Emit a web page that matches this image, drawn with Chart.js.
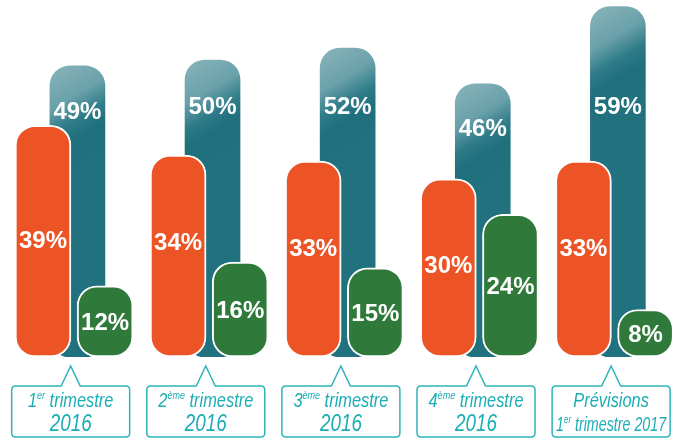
<!DOCTYPE html>
<html>
<head>
<meta charset="utf-8">
<script src="https://cdn.jsdelivr.net/npm/chart.js@4/dist/chart.umd.min.js"></script>
<style>
  html, body { margin: 0; padding: 0; background: #ffffff; }
  canvas { display: block; }
</style>
</head>
<body>
<canvas id="c" width="678" height="439"></canvas>
<script>
// ---- data ----
const CATEGORIES = ['1er trimestre 2016', '2ème trimestre 2016', '3ème trimestre 2016', '4ème trimestre 2016', 'Prévisions 1er trimestre 2017'];
const LABEL_LINE1 = ['1^er trimestre', '2^ème trimestre', '3^ème trimestre', '4^ème trimestre', 'Prévisions'];
const LABEL_LINE2 = ['2016', '2016', '2016', '2016', '1^er trimestre 2017'];
const ORANGE_VALUES = [39, 34, 33, 30, 33];
const TEAL_VALUES = [49, 50, 52, 46, 59];
const GREEN_VALUES = [12, 16, 15, 24, 8];

// ---- styles ----
const ORANGE = '#EC5325';
const TEAL = '#1F7080';
const GREEN = '#2F7A3B';
const CYAN = '#1DAEB5';
const BOX = '#2DB5BA';
const OFFSETS = { orange: 0, teal: 0.255, green: 0.46, label: 0.205 };
const WIDTHS = { orange: 56, teal: 55, green: 56 };
const NARROW = 0.82;

function pts(values, off) {
  return values.map((v, i) => ({ x: i + off, y: v }));
}

function tealGradient(c) {
  if (c.type !== 'data') return TEAL;
  const chart = c.chart;
  const xs = chart.scales.x, ys = chart.scales.y;
  if (!xs || !ys || !chart.chartArea || !c.parsed) return TEAL;
  const cx = xs.getPixelForValue(c.parsed.x);
  const top = ys.getPixelForValue(c.parsed.y);
  const w = WIDTHS.teal;
  const g = chart.ctx.createLinearGradient(cx - w / 2, top, cx + w / 2, top + w * 1.7);
  g.addColorStop(0, '#8ab4bb');
  g.addColorStop(0.35, '#6aa1aa');
  g.addColorStop(0.55, '#2f7c89');
  g.addColorStop(0.7, '#1f6f7d');
  g.addColorStop(1, '#21717f');
  return g;
}

const valueLabels = {
  id: 'valueLabels',
  afterDatasetsDraw(chart) {
    const ctx = chart.ctx;
    const ys = chart.scales.y;
    const mO = chart.getDatasetMeta(0).data;
    const mT = chart.getDatasetMeta(1).data;
    const mG = chart.getDatasetMeta(2).data;
    const tealLevel = ys.getPixelForValue(42);
    const orangeLevel = ys.getPixelForValue(19.5);
    ctx.save();
    ctx.fillStyle = '#ffffff';
    ctx.font = 'bold 24px "Liberation Sans", Arial, sans-serif';
    ctx.textAlign = 'center';
    ctx.textBaseline = 'middle';
    for (let i = 0; i < CATEGORIES.length; i++) {
      const o = mO[i], t = mT[i], g = mG[i];
      ctx.fillText(ORANGE_VALUES[i] + '%', o.x, Math.max(orangeLevel, o.y + 88));
      ctx.fillText(TEAL_VALUES[i] + '%', t.x, Math.max(tealLevel, t.y + 46));
      ctx.fillText(GREEN_VALUES[i] + '%', g.x, (g.y + g.base) / 2 + 2);
    }
    ctx.restore();
  }
};

function parseRich(s) {
  const out = [];
  let i = 0;
  let buf = '';
  while (i < s.length) {
    if (s[i] === '^') {
      if (buf) { out.push({ t: buf }); buf = ''; }
      i++;
      let sup = '';
      while (i < s.length && s[i] !== ' ') { sup += s[i]; i++; }
      out.push({ t: sup, sup: true });
    } else { buf += s[i]; i++; }
  }
  if (buf) out.push({ t: buf });
  return out;
}

function drawRich(ctx, text, cx, baseline, size, maxW) {
  const segs = parseRich(text);
  const main = 'italic ' + size + 'px "Liberation Sans", Arial, sans-serif';
  const supF = 'italic ' + Math.round(size * 0.55) + 'px "Liberation Sans", Arial, sans-serif';
  let total = 0;
  segs.forEach(sg => { ctx.font = sg.sup ? supF : main; sg.w = ctx.measureText(sg.t).width; total += sg.w; });
  let sx = NARROW;
  if (total * sx > maxW) sx = maxW / total;
  ctx.save();
  ctx.translate(cx, baseline);
  ctx.scale(sx, 1);
  let x = -total / 2;
  ctx.textAlign = 'left';
  ctx.textBaseline = 'alphabetic';
  segs.forEach(sg => {
    ctx.font = sg.sup ? supF : main;
    ctx.fillText(sg.t, x, sg.sup ? -size * 0.38 : 0);
    x += sg.w;
  });
  ctx.restore();
}

const categoryBoxes = {
  id: 'categoryBoxes',
  afterDraw(chart) {
    const ctx = chart.ctx;
    const xs = chart.scales.x;
    const bottom = chart.chartArea.bottom;
    ctx.save();
    for (let i = 0; i < CATEGORIES.length; i++) {
      const cx = xs.getPixelForValue(i + OFFSETS.label);
      const l = cx - 59, r = cx + 59, t = bottom + 29, b = bottom + 80, rad = 4;
      const tipY = bottom + 9, half = 9.5;
      ctx.beginPath();
      ctx.moveTo(l + rad, t);
      ctx.lineTo(cx - half, t);
      ctx.lineTo(cx, tipY);
      ctx.lineTo(cx + half, t);
      ctx.lineTo(r - rad, t);
      ctx.quadraticCurveTo(r, t, r, t + rad);
      ctx.lineTo(r, b - rad);
      ctx.quadraticCurveTo(r, b, r - rad, b);
      ctx.lineTo(l + rad, b);
      ctx.quadraticCurveTo(l, b, l, b - rad);
      ctx.lineTo(l, t + rad);
      ctx.quadraticCurveTo(l, t, l + rad, t);
      ctx.closePath();
      ctx.fillStyle = '#ffffff';
      ctx.fill();
      ctx.lineWidth = 1.5;
      ctx.strokeStyle = BOX;
      ctx.stroke();
      ctx.fillStyle = CYAN;
      const big2 = LABEL_LINE2[i].indexOf('^') < 0;
      drawRich(ctx, LABEL_LINE1[i], cx, bottom + 50, 20, 110);
      drawRich(ctx, LABEL_LINE2[i], cx, bottom + 74, big2 ? 23 : 20, 110);
    }
    ctx.restore();
  }
};

new Chart(document.getElementById('c'), {
  type: 'bar',
  data: {
    datasets: [
      {
        label: 'orange',
        data: pts(ORANGE_VALUES, OFFSETS.orange),
        backgroundColor: ORANGE,
        borderColor: '#ffffff',
        borderWidth: 2,
        borderRadius: 20,
        borderSkipped: false,
        barThickness: WIDTHS.orange,
        grouped: false,
        order: 1
      },
      {
        label: 'teal',
        data: pts(TEAL_VALUES, OFFSETS.teal),
        backgroundColor: tealGradient,
        borderWidth: 0,
        borderRadius: 20,
        borderSkipped: false,
        barThickness: WIDTHS.teal,
        grouped: false,
        order: 2
      },
      {
        label: 'green',
        data: pts(GREEN_VALUES, OFFSETS.green),
        backgroundColor: GREEN,
        borderColor: '#ffffff',
        borderWidth: 2,
        borderRadius: 20,
        borderSkipped: false,
        barThickness: WIDTHS.green,
        grouped: false,
        order: 0
      }
    ]
  },
  options: {
    responsive: false,
    animation: false,
    layout: { padding: { left: 0, right: 0, top: 0, bottom: 82 } },
    plugins: { legend: { display: false }, tooltip: { enabled: false } },
    scales: {
      x: { type: 'linear', min: -0.318, max: 4.7, offset: false, display: false },
      y: { min: 0, max: 60.1, display: false }
    }
  },
  plugins: [valueLabels, categoryBoxes]
});
</script>
</body>
</html>
